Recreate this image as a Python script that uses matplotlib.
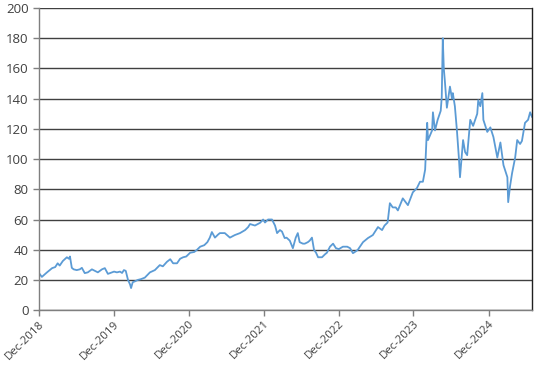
import matplotlib
matplotlib.use("Agg")
import matplotlib.pyplot as plt
import matplotlib.dates as mdates
import pandas as pd

dates = [
    "2018-12-01", "2018-12-15", "2019-01-09", "2019-02-03", "2019-02-18", "2019-03-02",
    "2019-03-12", "2019-03-27", "2019-04-16", "2019-04-26", "2019-05-01", "2019-05-10",
    "2019-05-19", "2019-06-03", "2019-06-18", "2019-06-28", "2019-07-12", "2019-07-27",
    "2019-08-16", "2019-08-30", "2019-09-14", "2019-10-04", "2019-10-18", "2019-11-02",
    "2019-11-12", "2019-12-02", "2019-12-16", "2019-12-31", "2020-01-10", "2020-01-19",
    "2020-01-28", "2020-02-08", "2020-02-18", "2020-02-23", "2020-03-02", "2020-03-12",
    "2020-03-27", "2020-04-11", "2020-04-30", "2020-05-25", "2020-06-18", "2020-07-12",
    "2020-07-27", "2020-08-16", "2020-09-01", "2020-09-15", "2020-10-04", "2020-10-19",
    "2020-11-03", "2020-11-18", "2020-12-07", "2020-12-27", "2021-01-10", "2021-01-25",
    "2021-02-14", "2021-03-01", "2021-03-13", "2021-03-23", "2021-04-07", "2021-04-22",
    "2021-05-01", "2021-05-25", "2021-06-19", "2021-07-13", "2021-08-07", "2021-09-01",
    "2021-09-16", "2021-09-25", "2021-10-19", "2021-11-13", "2021-11-28", "2021-12-07",
    "2021-12-22", "2022-01-10", "2022-01-25", "2022-02-04", "2022-02-18", "2022-02-28",
    "2022-03-13", "2022-03-22", "2022-04-07", "2022-04-22", "2022-05-06", "2022-05-16",
    "2022-05-25", "2022-06-10", "2022-06-19", "2022-07-04", "2022-07-13", "2022-07-24",
    "2022-08-03", "2022-08-13", "2022-08-23", "2022-09-11", "2022-09-26", "2022-10-05",
    "2022-10-20", "2022-11-04", "2022-11-18", "2022-12-02", "2022-12-22", "2023-01-12",
    "2023-01-26", "2023-02-09", "2023-02-24", "2023-03-05", "2023-03-30", "2023-04-23",
    "2023-05-17", "2023-06-11", "2023-07-01", "2023-07-13", "2023-07-28", "2023-08-08",
    "2023-08-22", "2023-09-06", "2023-09-16", "2023-10-10", "2023-11-04", "2023-11-28",
    "2023-12-18", "2024-01-02", "2024-01-16", "2024-01-27", "2024-02-06", "2024-02-10",
    "2024-03-01", "2024-03-05", "2024-03-15", "2024-03-28", "2024-04-12", "2024-04-17",
    "2024-04-22", "2024-04-27", "2024-05-02", "2024-05-12", "2024-05-27", "2024-06-06",
    "2024-06-10", "2024-06-20", "2024-06-30", "2024-07-10", "2024-07-15", "2024-07-25",
    "2024-07-30", "2024-08-09", "2024-08-19", "2024-09-03", "2024-09-17", "2024-10-07",
    "2024-10-12", "2024-10-22", "2024-11-01", "2024-11-06", "2024-11-25", "2024-12-10",
    "2024-12-25", "2025-01-13", "2025-01-28", "2025-02-12", "2025-03-03", "2025-03-07",
    "2025-03-16", "2025-03-26", "2025-04-10", "2025-04-20", "2025-05-04", "2025-05-13",
    "2025-05-28", "2025-06-12", "2025-06-22", "2025-07-01",
]
prices = [
    24.5, 22, 25, 27.8, 28.5, 31,
    29.5, 32.5, 35, 34, 35.5, 28,
    27, 26.5, 27, 28, 24.5, 25,
    27, 26, 25, 27, 27.8, 24,
    24.5, 25.5, 25, 25.5, 24.6, 26.5,
    26, 20, 17, 14.6, 18.5, 19,
    20, 20.5, 21.5, 25, 26.5, 29.8,
    29, 32, 33.7, 31, 31, 34,
    35, 35.5, 38, 38.5, 40, 42,
    43, 45, 48, 51.7, 48, 50,
    51, 51, 48, 49.7, 51, 53,
    55, 57, 56, 57.8, 60, 58,
    60, 60, 56, 51, 53, 52,
    47.7, 48, 46, 41, 48, 51,
    45, 44, 44, 45, 46, 48,
    40, 38, 35, 35, 37, 38,
    42, 44, 41, 40.4, 42, 42,
    41, 37.7, 39, 40, 45, 47.7,
    49.7, 55, 53, 56, 58, 70.8,
    68, 68, 66, 74, 69.5, 78,
    80.8, 85, 85, 93, 124, 112.6,
    119, 131, 119, 126, 132, 141,
    180, 160, 152, 134, 148, 140,
    143.7, 135, 119, 100, 88, 105,
    112.6, 104.6, 102.6, 126, 122, 130,
    139, 135, 143.7, 126, 118, 121,
    114.6, 101, 111, 96, 88, 71.5,
    82, 90.7, 101, 112.6, 110, 112,
    124, 126, 131, 128,
]
yticks = [0, 20, 40, 60, 80, 100, 120, 140, 160, 180, 200]

x = pd.to_datetime(dates)

plt.rcParams['font.family'] = ['Open Sans', 'DejaVu Sans']
fig = plt.figure(figsize=(5.38, 3.67), dpi=100)
ax = fig.add_axes([0.0725, 0.155, 0.9163, 0.823])

ax.plot(x, prices, color='#5b9bd5', lw=1.3)

ax.set_ylim(0, 200)
ax.set_yticks(yticks)
ax.set_xlim(pd.Timestamp("2018-12-01"), pd.Timestamp("2025-07-01"))
ax.xaxis.set_major_locator(mdates.MonthLocator(bymonth=12, bymonthday=1))
ax.xaxis.set_major_formatter(mdates.DateFormatter('%b-%Y'))

ax.grid(axis='y', color='#404040', lw=1.0)
ax.set_axisbelow(True)
for s in ['left', 'bottom']:
    ax.spines[s].set_color('#7f7f7f')
    ax.spines[s].set_linewidth(1.0)
ax.spines['right'].set_color('#202020')
ax.spines['right'].set_linewidth(1.0)
ax.spines['top'].set_visible(False)

ax.tick_params(axis='both', colors='#7f7f7f', labelcolor='#404040',
               labelsize=9.5, length=4, width=1)
ax.tick_params(axis='x', labelsize=8.2, pad=2)
for lab in ax.get_xticklabels():
    lab.set_rotation(45)
    lab.set_ha('right')
    lab.set_rotation_mode('anchor')

fig.savefig('out.png', dpi=100)
